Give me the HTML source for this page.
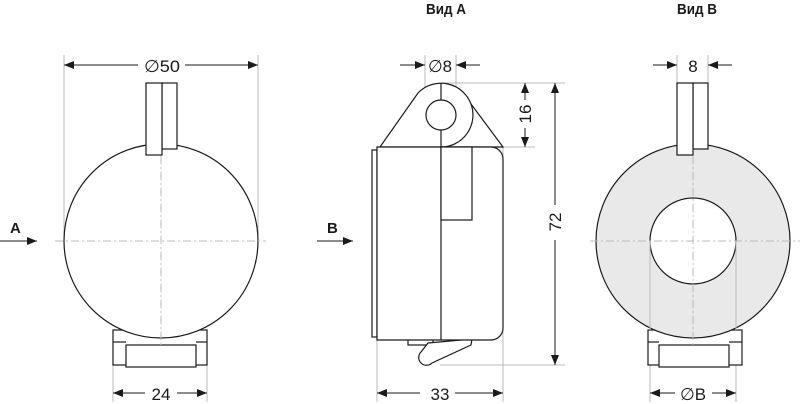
<!DOCTYPE html>
<html><head><meta charset="utf-8"><style>
html,body{margin:0;padding:0;background:#fff;width:800px;height:404px;overflow:hidden}
text{font-family:"Liberation Sans","DejaVu Sans",sans-serif;fill:#1a1a1a}
</style></head><body>
<svg width="800" height="404" viewBox="0 0 800 404" xmlns="http://www.w3.org/2000/svg">
<defs>
<marker id="ar" viewBox="0 0 10 8" refX="10" refY="4" markerWidth="10" markerHeight="8" markerUnits="userSpaceOnUse" orient="auto"><path d="M0,0L10,4L0,8z" fill="#1a1a1a"/></marker>
</defs>
<g font-size="15" font-weight="bold">
<text x="426" y="14" textLength="40" lengthAdjust="spacingAndGlyphs">Вид А</text>
<text x="677" y="14" textLength="40" lengthAdjust="spacingAndGlyphs">Вид В</text>
</g>
<g stroke="#bbb" stroke-width="1" fill="none">
<line x1="64" y1="55" x2="64" y2="241"/><line x1="258" y1="55" x2="258" y2="241"/>
<line x1="113" y1="365" x2="113" y2="402"/><line x1="207" y1="365" x2="207" y2="402"/>
<line x1="425" y1="55" x2="425" y2="115"/><line x1="456" y1="55" x2="456" y2="115"/>
<line x1="441" y1="83" x2="565" y2="83"/><line x1="503" y1="147" x2="535" y2="147"/><line x1="440" y1="365" x2="565" y2="365"/>
<line x1="377" y1="340" x2="377" y2="402"/><line x1="503" y1="147" x2="503" y2="402"/>
<line x1="677" y1="55" x2="677" y2="83"/><line x1="708" y1="55" x2="708" y2="83"/>
<line x1="650" y1="241" x2="650" y2="402"/><line x1="736" y1="241" x2="736" y2="402"/>
</g>
<!-- left view -->
<g stroke="#1a1a1a" stroke-width="1.2" fill="#fff">
<rect x="113" y="330" width="94" height="35"/>
<rect x="126" y="345" width="70" height="22"/>
<line x1="113" y1="342" x2="126" y2="342"/><line x1="196" y1="342" x2="207" y2="342"/>
<circle cx="161" cy="241" r="97"/>
<rect x="162" y="83" width="15" height="66"/>
<rect x="146" y="83" width="16" height="72"/>
</g>
<line x1="161" y1="156" x2="161" y2="345" stroke="#bbb" stroke-dasharray="8,3,2,3"/>
<line x1="55" y1="241" x2="266" y2="241" stroke="#bbb" stroke-dasharray="8,3,2,3"/>
<!-- right view -->
<g stroke="#1a1a1a" stroke-width="1.2">
<rect x="648" y="330" width="94" height="35" fill="#fff"/>
<rect x="659" y="345" width="70" height="22" fill="#fff"/>
<line x1="648" y1="342" x2="659" y2="342"/><line x1="729" y1="342" x2="742" y2="342"/>
<circle cx="693" cy="241" r="97" fill="#e9e9e9"/>
<circle cx="693" cy="241" r="43" fill="#fff"/>
<rect x="693" y="83" width="15" height="66" fill="#fff"/>
<rect x="677" y="83" width="16" height="72" fill="#fff"/>
</g>
<g stroke="#bbb" stroke-dasharray="8,3,2,3"><line x1="590" y1="241" x2="800" y2="241"/><line x1="693" y1="156" x2="693" y2="345"/></g>
<g stroke="#bbb"><line x1="650" y1="241" x2="650" y2="330"/><line x1="736" y1="241" x2="736" y2="330"/></g>
<!-- middle view -->
<g stroke="#1a1a1a" stroke-width="1.2" fill="#fff">
<path d="M380,147 L418,93 A32,32 0 0 1 471,104 L503,147 Z"/>
<path d="M441,147 A32,32 0 0 0 471,104" fill="none"/>
<circle cx="441" cy="115" r="15"/>
<rect x="372" y="150" width="5" height="187"/>
<rect x="408" y="339" width="25" height="6"/>
<path d="M428,343 L472,339 L471,345 L432,363 A7,7 0 0 1 421,352 Z"/>
<path d="M377,147 H491 A12,12 0 0 1 503,159 V328 A12,12 0 0 1 491,340 H377 Z"/>
<line x1="441" y1="147" x2="441" y2="340"/>
<rect x="441" y="147" width="31" height="73"/>
<line x1="441" y1="83" x2="441" y2="100"/>
<line x1="441" y1="130" x2="441" y2="147"/>
</g>
<!-- dimensions -->
<g stroke="#1a1a1a" stroke-width="1" fill="none">
<line x1="138" y1="65" x2="64" y2="65" marker-end="url(#ar)"/><line x1="185" y1="65" x2="258" y2="65" marker-end="url(#ar)"/>
<line x1="145" y1="393" x2="113" y2="393" marker-end="url(#ar)"/><line x1="177" y1="393" x2="207" y2="393" marker-end="url(#ar)"/>
<line x1="400" y1="65" x2="425" y2="65" marker-end="url(#ar)"/><line x1="480" y1="65" x2="456" y2="65" marker-end="url(#ar)"/>
<line x1="525" y1="100" x2="525" y2="83" marker-end="url(#ar)"/><line x1="525" y1="128" x2="525" y2="147" marker-end="url(#ar)"/>
<line x1="555" y1="205" x2="555" y2="83" marker-end="url(#ar)"/><line x1="555" y1="240" x2="555" y2="365" marker-end="url(#ar)"/>
<line x1="420" y1="393" x2="377" y2="393" marker-end="url(#ar)"/><line x1="455" y1="393" x2="503" y2="393" marker-end="url(#ar)"/>
<line x1="653" y1="65" x2="677" y2="65" marker-end="url(#ar)"/><line x1="732" y1="65" x2="708" y2="65" marker-end="url(#ar)"/>
<line x1="675" y1="393" x2="650" y2="393" marker-end="url(#ar)"/><line x1="712" y1="393" x2="736" y2="393" marker-end="url(#ar)"/>
<line x1="0" y1="241" x2="37" y2="241" marker-end="url(#ar)"/>
<line x1="317" y1="241" x2="353" y2="241" marker-end="url(#ar)"/>
</g>
<g font-size="17">
<text x="162" y="72" text-anchor="middle" textLength="36" lengthAdjust="spacingAndGlyphs">∅50</text>
<text x="161" y="400" text-anchor="middle">24</text>
<text x="440" y="72" text-anchor="middle" textLength="24" lengthAdjust="spacingAndGlyphs">∅8</text>
<text x="440" y="400" text-anchor="middle">33</text>
<text x="693" y="72" text-anchor="middle">8</text>
<text x="693" y="400" text-anchor="middle" textLength="26" lengthAdjust="spacingAndGlyphs">∅B</text>
<text transform="translate(531,114) rotate(-90)" text-anchor="middle">16</text>
<text transform="translate(561,222) rotate(-90)" text-anchor="middle">72</text>
</g>
<g font-size="15" font-weight="bold">
<text x="10" y="233">A</text>
<text x="327" y="233">B</text>
</g>
</svg>
</body></html>
